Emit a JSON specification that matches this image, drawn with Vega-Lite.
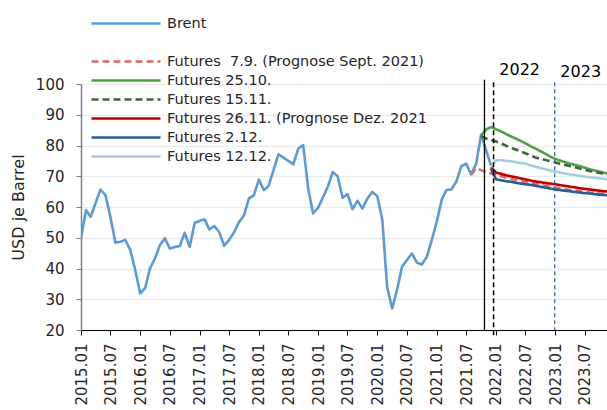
{
  "$schema": "https://vega.github.io/schema/vega-lite/v6.json",
  "width": 526,
  "height": 246,
  "autosize": {"type": "none"},
  "padding": {"left": 81, "top": 84, "right": 0, "bottom": 80},
  "background": "white",
  "config": {
    "font": "DejaVu Sans",
    "view": {"stroke": null},
    "axis": {"labelColor": "#262626", "titleColor": "#262626", "labelFont": "DejaVu Sans", "titleFont": "DejaVu Sans"}
  },
  "datasets": {
    "series": [
      {"s": "Brent", "d": "2015-01-01", "v": 49.8}, {"s": "Brent", "d": "2015-02-01", "v": 59.0}, {"s": "Brent", "d": "2015-03-01", "v": 56.8}, {"s": "Brent", "d": "2015-04-01", "v": 61.3}, {"s": "Brent", "d": "2015-05-01", "v": 65.7}, {"s": "Brent", "d": "2015-06-01", "v": 63.8}, {"s": "Brent", "d": "2015-07-01", "v": 56.8}, {"s": "Brent", "d": "2015-08-01", "v": 48.4}, {"s": "Brent", "d": "2015-09-01", "v": 48.7}, {"s": "Brent", "d": "2015-10-01", "v": 49.3}, {"s": "Brent", "d": "2015-11-01", "v": 46.0}, {"s": "Brent", "d": "2015-12-01", "v": 39.5},
      {"s": "Brent", "d": "2016-01-01", "v": 31.9}, {"s": "Brent", "d": "2016-02-01", "v": 33.7}, {"s": "Brent", "d": "2016-03-01", "v": 40.0}, {"s": "Brent", "d": "2016-04-01", "v": 43.3}, {"s": "Brent", "d": "2016-05-01", "v": 47.6}, {"s": "Brent", "d": "2016-06-01", "v": 49.8}, {"s": "Brent", "d": "2016-07-01", "v": 46.5}, {"s": "Brent", "d": "2016-08-01", "v": 47.0}, {"s": "Brent", "d": "2016-09-01", "v": 47.3}, {"s": "Brent", "d": "2016-10-01", "v": 51.6}, {"s": "Brent", "d": "2016-11-01", "v": 47.0}, {"s": "Brent", "d": "2016-12-01", "v": 54.8},
      {"s": "Brent", "d": "2017-01-01", "v": 55.5}, {"s": "Brent", "d": "2017-02-01", "v": 56.0}, {"s": "Brent", "d": "2017-03-01", "v": 52.7}, {"s": "Brent", "d": "2017-04-01", "v": 53.8}, {"s": "Brent", "d": "2017-05-01", "v": 51.9}, {"s": "Brent", "d": "2017-06-01", "v": 47.4}, {"s": "Brent", "d": "2017-07-01", "v": 49.2}, {"s": "Brent", "d": "2017-08-01", "v": 51.8}, {"s": "Brent", "d": "2017-09-01", "v": 55.1}, {"s": "Brent", "d": "2017-10-01", "v": 57.3}, {"s": "Brent", "d": "2017-11-01", "v": 62.8}, {"s": "Brent", "d": "2017-12-01", "v": 63.8},
      {"s": "Brent", "d": "2018-01-01", "v": 68.9}, {"s": "Brent", "d": "2018-02-01", "v": 65.5}, {"s": "Brent", "d": "2018-03-01", "v": 66.8}, {"s": "Brent", "d": "2018-04-01", "v": 71.9}, {"s": "Brent", "d": "2018-05-01", "v": 77.1}, {"s": "Brent", "d": "2018-06-01", "v": 76.1}, {"s": "Brent", "d": "2018-07-01", "v": 75.0}, {"s": "Brent", "d": "2018-08-01", "v": 73.9}, {"s": "Brent", "d": "2018-09-01", "v": 79.0}, {"s": "Brent", "d": "2018-10-01", "v": 80.1}, {"s": "Brent", "d": "2018-11-01", "v": 66.0}, {"s": "Brent", "d": "2018-12-01", "v": 57.9},
      {"s": "Brent", "d": "2019-01-01", "v": 59.8}, {"s": "Brent", "d": "2019-02-01", "v": 63.3}, {"s": "Brent", "d": "2019-03-01", "v": 66.5}, {"s": "Brent", "d": "2019-04-01", "v": 71.4}, {"s": "Brent", "d": "2019-05-01", "v": 70.0}, {"s": "Brent", "d": "2019-06-01", "v": 63.0}, {"s": "Brent", "d": "2019-07-01", "v": 64.2}, {"s": "Brent", "d": "2019-08-01", "v": 59.3}, {"s": "Brent", "d": "2019-09-01", "v": 62.0}, {"s": "Brent", "d": "2019-10-01", "v": 59.5}, {"s": "Brent", "d": "2019-11-01", "v": 62.8}, {"s": "Brent", "d": "2019-12-01", "v": 64.9},
      {"s": "Brent", "d": "2020-01-01", "v": 63.5}, {"s": "Brent", "d": "2020-02-01", "v": 55.7}, {"s": "Brent", "d": "2020-03-01", "v": 34.1}, {"s": "Brent", "d": "2020-04-01", "v": 27.0}, {"s": "Brent", "d": "2020-05-01", "v": 33.0}, {"s": "Brent", "d": "2020-06-01", "v": 40.6}, {"s": "Brent", "d": "2020-07-01", "v": 42.7}, {"s": "Brent", "d": "2020-08-01", "v": 44.9}, {"s": "Brent", "d": "2020-09-01", "v": 41.9}, {"s": "Brent", "d": "2020-10-01", "v": 41.3}, {"s": "Brent", "d": "2020-11-01", "v": 43.8}, {"s": "Brent", "d": "2020-12-01", "v": 49.2},
      {"s": "Brent", "d": "2021-01-01", "v": 55.2}, {"s": "Brent", "d": "2021-02-01", "v": 62.4}, {"s": "Brent", "d": "2021-03-01", "v": 65.5}, {"s": "Brent", "d": "2021-04-01", "v": 65.7}, {"s": "Brent", "d": "2021-05-01", "v": 68.2}, {"s": "Brent", "d": "2021-06-01", "v": 73.2}, {"s": "Brent", "d": "2021-07-01", "v": 74.1}, {"s": "Brent", "d": "2021-08-01", "v": 70.6}, {"s": "Brent", "d": "2021-09-01", "v": 74.1}, {"s": "Brent", "d": "2021-10-01", "v": 83.5}, {"s": "Brent", "d": "2021-11-01", "v": 78.5}, {"s": "Brent", "d": "2021-12-01", "v": 73.5},

      {"s": "F0709", "d": "2021-08-01", "v": 70.5}, {"s": "F0709", "d": "2021-09-01", "v": 72.6}, {"s": "F0709", "d": "2021-10-01", "v": 72.0}, {"s": "F0709", "d": "2021-11-01", "v": 71.4}, {"s": "F0709", "d": "2021-12-01", "v": 70.9}, {"s": "F0709", "d": "2022-01-01", "v": 70.4}, {"s": "F0709", "d": "2022-02-01", "v": 70.0}, {"s": "F0709", "d": "2022-03-01", "v": 69.6}, {"s": "F0709", "d": "2022-04-01", "v": 69.2}, {"s": "F0709", "d": "2022-05-01", "v": 68.8}, {"s": "F0709", "d": "2022-06-01", "v": 68.4}, {"s": "F0709", "d": "2022-07-01", "v": 68.1}, {"s": "F0709", "d": "2022-08-01", "v": 67.8}, {"s": "F0709", "d": "2022-09-01", "v": 67.5}, {"s": "F0709", "d": "2022-10-01", "v": 67.2}, {"s": "F0709", "d": "2022-11-01", "v": 66.9}, {"s": "F0709", "d": "2022-12-01", "v": 66.6}, {"s": "F0709", "d": "2023-01-01", "v": 66.3}, {"s": "F0709", "d": "2023-02-01", "v": 66.0}, {"s": "F0709", "d": "2023-03-01", "v": 65.8}, {"s": "F0709", "d": "2023-04-01", "v": 65.5}, {"s": "F0709", "d": "2023-05-01", "v": 65.3}, {"s": "F0709", "d": "2023-06-01", "v": 65.1}, {"s": "F0709", "d": "2023-07-01", "v": 64.9}, {"s": "F0709", "d": "2023-08-01", "v": 64.7}, {"s": "F0709", "d": "2023-09-01", "v": 64.6}, {"s": "F0709", "d": "2023-10-01", "v": 64.4}, {"s": "F0709", "d": "2023-11-01", "v": 64.3}, {"s": "F0709", "d": "2023-12-01", "v": 64.2},

      {"s": "F2510", "d": "2021-10-01", "v": 83.3}, {"s": "F2510", "d": "2021-11-01", "v": 85.2}, {"s": "F2510", "d": "2021-12-01", "v": 86.0}, {"s": "F2510", "d": "2022-01-01", "v": 85.3}, {"s": "F2510", "d": "2022-02-01", "v": 84.6}, {"s": "F2510", "d": "2022-03-01", "v": 83.8}, {"s": "F2510", "d": "2022-04-01", "v": 83.0}, {"s": "F2510", "d": "2022-05-01", "v": 82.3}, {"s": "F2510", "d": "2022-06-01", "v": 81.5}, {"s": "F2510", "d": "2022-07-01", "v": 80.7}, {"s": "F2510", "d": "2022-08-01", "v": 79.8}, {"s": "F2510", "d": "2022-09-01", "v": 79.0}, {"s": "F2510", "d": "2022-10-01", "v": 78.2}, {"s": "F2510", "d": "2022-11-01", "v": 77.3}, {"s": "F2510", "d": "2022-12-01", "v": 76.4}, {"s": "F2510", "d": "2023-01-01", "v": 75.6}, {"s": "F2510", "d": "2023-02-01", "v": 75.1}, {"s": "F2510", "d": "2023-03-01", "v": 74.6}, {"s": "F2510", "d": "2023-04-01", "v": 74.1}, {"s": "F2510", "d": "2023-05-01", "v": 73.7}, {"s": "F2510", "d": "2023-06-01", "v": 73.3}, {"s": "F2510", "d": "2023-07-01", "v": 72.8}, {"s": "F2510", "d": "2023-08-01", "v": 72.3}, {"s": "F2510", "d": "2023-09-01", "v": 71.9}, {"s": "F2510", "d": "2023-10-01", "v": 71.5}, {"s": "F2510", "d": "2023-11-01", "v": 71.1}, {"s": "F2510", "d": "2023-12-01", "v": 70.7},

      {"s": "F1511", "d": "2021-10-01", "v": 83.0}, {"s": "F1511", "d": "2021-11-01", "v": 82.3}, {"s": "F1511", "d": "2021-12-01", "v": 81.8}, {"s": "F1511", "d": "2022-01-01", "v": 81.3}, {"s": "F1511", "d": "2022-02-01", "v": 80.7}, {"s": "F1511", "d": "2022-03-01", "v": 80.0}, {"s": "F1511", "d": "2022-04-01", "v": 79.3}, {"s": "F1511", "d": "2022-05-01", "v": 78.7}, {"s": "F1511", "d": "2022-06-01", "v": 78.1}, {"s": "F1511", "d": "2022-07-01", "v": 77.5}, {"s": "F1511", "d": "2022-08-01", "v": 76.8}, {"s": "F1511", "d": "2022-09-01", "v": 76.1}, {"s": "F1511", "d": "2022-10-01", "v": 75.7}, {"s": "F1511", "d": "2022-11-01", "v": 75.3}, {"s": "F1511", "d": "2022-12-01", "v": 74.9}, {"s": "F1511", "d": "2023-01-01", "v": 74.5}, {"s": "F1511", "d": "2023-02-01", "v": 74.1}, {"s": "F1511", "d": "2023-03-01", "v": 73.7}, {"s": "F1511", "d": "2023-04-01", "v": 73.3}, {"s": "F1511", "d": "2023-05-01", "v": 72.9}, {"s": "F1511", "d": "2023-06-01", "v": 72.5}, {"s": "F1511", "d": "2023-07-01", "v": 72.1}, {"s": "F1511", "d": "2023-08-01", "v": 71.7}, {"s": "F1511", "d": "2023-09-01", "v": 71.4}, {"s": "F1511", "d": "2023-10-01", "v": 71.1}, {"s": "F1511", "d": "2023-11-01", "v": 70.8}, {"s": "F1511", "d": "2023-12-01", "v": 70.5},

      {"s": "F2611", "d": "2021-12-01", "v": 73.0}, {"s": "F2611", "d": "2022-01-01", "v": 71.2}, {"s": "F2611", "d": "2022-02-01", "v": 70.8}, {"s": "F2611", "d": "2022-03-01", "v": 70.4}, {"s": "F2611", "d": "2022-04-01", "v": 70.0}, {"s": "F2611", "d": "2022-05-01", "v": 69.7}, {"s": "F2611", "d": "2022-06-01", "v": 69.3}, {"s": "F2611", "d": "2022-07-01", "v": 69.0}, {"s": "F2611", "d": "2022-08-01", "v": 68.6}, {"s": "F2611", "d": "2022-09-01", "v": 68.3}, {"s": "F2611", "d": "2022-10-01", "v": 68.1}, {"s": "F2611", "d": "2022-11-01", "v": 67.8}, {"s": "F2611", "d": "2022-12-01", "v": 67.6}, {"s": "F2611", "d": "2023-01-01", "v": 67.4}, {"s": "F2611", "d": "2023-02-01", "v": 67.1}, {"s": "F2611", "d": "2023-03-01", "v": 66.9}, {"s": "F2611", "d": "2023-04-01", "v": 66.6}, {"s": "F2611", "d": "2023-05-01", "v": 66.4}, {"s": "F2611", "d": "2023-06-01", "v": 66.1}, {"s": "F2611", "d": "2023-07-01", "v": 65.9}, {"s": "F2611", "d": "2023-08-01", "v": 65.7}, {"s": "F2611", "d": "2023-09-01", "v": 65.5}, {"s": "F2611", "d": "2023-10-01", "v": 65.3}, {"s": "F2611", "d": "2023-11-01", "v": 65.1}, {"s": "F2611", "d": "2023-12-01", "v": 65.0},

      {"s": "F0212", "d": "2021-12-01", "v": 72.5}, {"s": "F0212", "d": "2022-01-01", "v": 69.0}, {"s": "F0212", "d": "2022-02-01", "v": 68.7}, {"s": "F0212", "d": "2022-03-01", "v": 68.4}, {"s": "F0212", "d": "2022-04-01", "v": 68.2}, {"s": "F0212", "d": "2022-05-01", "v": 67.9}, {"s": "F0212", "d": "2022-06-01", "v": 67.6}, {"s": "F0212", "d": "2022-07-01", "v": 67.4}, {"s": "F0212", "d": "2022-08-01", "v": 67.2}, {"s": "F0212", "d": "2022-09-01", "v": 66.9}, {"s": "F0212", "d": "2022-10-01", "v": 66.6}, {"s": "F0212", "d": "2022-11-01", "v": 66.3}, {"s": "F0212", "d": "2022-12-01", "v": 66.0}, {"s": "F0212", "d": "2023-01-01", "v": 65.7}, {"s": "F0212", "d": "2023-02-01", "v": 65.5}, {"s": "F0212", "d": "2023-03-01", "v": 65.3}, {"s": "F0212", "d": "2023-04-01", "v": 65.1}, {"s": "F0212", "d": "2023-05-01", "v": 64.9}, {"s": "F0212", "d": "2023-06-01", "v": 64.7}, {"s": "F0212", "d": "2023-07-01", "v": 64.5}, {"s": "F0212", "d": "2023-08-01", "v": 64.4}, {"s": "F0212", "d": "2023-09-01", "v": 64.2}, {"s": "F0212", "d": "2023-10-01", "v": 64.0}, {"s": "F0212", "d": "2023-11-01", "v": 63.9}, {"s": "F0212", "d": "2023-12-01", "v": 63.7},

      {"s": "F1212", "d": "2021-12-01", "v": 73.0}, {"s": "F1212", "d": "2022-01-01", "v": 75.2}, {"s": "F1212", "d": "2022-02-01", "v": 75.2}, {"s": "F1212", "d": "2022-03-01", "v": 75.0}, {"s": "F1212", "d": "2022-04-01", "v": 74.9}, {"s": "F1212", "d": "2022-05-01", "v": 74.6}, {"s": "F1212", "d": "2022-06-01", "v": 74.3}, {"s": "F1212", "d": "2022-07-01", "v": 74.1}, {"s": "F1212", "d": "2022-08-01", "v": 73.5}, {"s": "F1212", "d": "2022-09-01", "v": 73.1}, {"s": "F1212", "d": "2022-10-01", "v": 72.7}, {"s": "F1212", "d": "2022-11-01", "v": 72.3}, {"s": "F1212", "d": "2022-12-01", "v": 71.9}, {"s": "F1212", "d": "2023-01-01", "v": 71.5}, {"s": "F1212", "d": "2023-02-01", "v": 71.2}, {"s": "F1212", "d": "2023-03-01", "v": 70.9}, {"s": "F1212", "d": "2023-04-01", "v": 70.6}, {"s": "F1212", "d": "2023-05-01", "v": 70.4}, {"s": "F1212", "d": "2023-06-01", "v": 70.1}, {"s": "F1212", "d": "2023-07-01", "v": 69.9}, {"s": "F1212", "d": "2023-08-01", "v": 69.7}, {"s": "F1212", "d": "2023-09-01", "v": 69.5}, {"s": "F1212", "d": "2023-10-01", "v": 69.3}, {"s": "F1212", "d": "2023-11-01", "v": 69.1}, {"s": "F1212", "d": "2023-12-01", "v": 68.9}
    ],
    "markers": [
      {"k": "today", "d": "2021-10-22", "v": 101.4, "v2": 20},
      {"k": "y2022", "d": "2021-12-17", "v": 100.6, "v2": 18},
      {"k": "y2023", "d": "2022-12-29", "v": 100.6, "v2": 20}
    ],
    "labels": [
      {"t": "2022", "d": "2022-05-27", "v": 102.8},
      {"t": "2023", "d": "2023-06-07", "v": 102.2}
    ]
  },
  "encoding": {
    "x": {
      "field": "d", "type": "temporal",
      "scale": {"type": "utc", "domain": [{"year": 2015, "month": 1, "date": 1, "utc": true}, {"year": 2023, "month": 11, "date": 16, "utc": true}]},
      "axis": {
        "title": null,
        "values": [
          {"year": 2015, "month": 1, "date": 1, "utc": true}, {"year": 2015, "month": 7, "date": 1, "utc": true},
          {"year": 2016, "month": 1, "date": 1, "utc": true}, {"year": 2016, "month": 7, "date": 1, "utc": true},
          {"year": 2017, "month": 1, "date": 1, "utc": true}, {"year": 2017, "month": 7, "date": 1, "utc": true},
          {"year": 2018, "month": 1, "date": 1, "utc": true}, {"year": 2018, "month": 7, "date": 1, "utc": true},
          {"year": 2019, "month": 1, "date": 1, "utc": true}, {"year": 2019, "month": 7, "date": 1, "utc": true},
          {"year": 2020, "month": 1, "date": 1, "utc": true}, {"year": 2020, "month": 7, "date": 1, "utc": true},
          {"year": 2021, "month": 1, "date": 1, "utc": true}, {"year": 2021, "month": 7, "date": 1, "utc": true},
          {"year": 2022, "month": 1, "date": 1, "utc": true}, {"year": 2022, "month": 7, "date": 1, "utc": true},
          {"year": 2023, "month": 1, "date": 1, "utc": true}, {"year": 2023, "month": 7, "date": 1, "utc": true}
        ],
        "format": "%Y.%m",
        "labelAngle": -90,
        "labelFontSize": 15,
        "labelPadding": 8,
        "labelFlush": false,
        "labelOverlap": false,
        "tickSize": 5,
        "tickColor": "#000000",
        "domainColor": "#000000",
        "domainWidth": 1.2,
        "grid": false
      }
    },
    "y": {
      "field": "v", "type": "quantitative",
      "scale": {"domain": [20, 100], "nice": false, "zero": false},
      "axis": {
        "title": "USD je Barrel",
        "titleFontSize": 16,
        "titleFontWeight": "normal",
        "titlePadding": 9,
        "values": [20, 30, 40, 50, 60, 70, 80, 90, 100],
        "labelOverlap": false,
        "labelFontSize": 15,
        "labelPadding": 12,
        "tickSize": 5,
        "tickColor": "#808080",
        "domainColor": "#808080",
        "domainWidth": 1.5,
        "gridColor": "#EBEBEB",
        "gridWidth": 1.5
      }
    }
  },
  "layer": [
    {
      "data": {"name": "series"},
      "mark": {"type": "line", "strokeWidth": 2.6, "clip": true, "strokeJoin": "round"},
      "encoding": {
        "color": {
          "field": "s", "type": "nominal",
          "scale": {
            "domain": ["Brent", "gap", "F0709", "F2510", "F1511", "F2611", "F0212", "F1212"],
            "range": ["#5B9BD5", "rgba(0,0,0,0)", "#DB6B6B", "#52A047", "#386B30", "#C00000", "#2B5C92", "#A6CEE3"]
          },
          "legend": {
            "title": null,
            "orient": "none",
            "legendX": 9,
            "legendY": -70,
            "padding": 0,
            "symbolType": "stroke",
            "symbolSize": 4761,
            "symbolStrokeWidth": 2.6,
            "labelFontSize": 14.5,
            "labelColor": "#262626",
            "labelOffset": 5,
            "labelLimit": 400,
            "clipHeight": 19,
            "rowPadding": 0,
            "labelExpr": "{'Brent':'Brent','gap':'','F0709':'Futures \u00a07.9. (Prognose Sept. 2021)','F2510':'Futures 25.10.','F1511':'Futures 15.11.','F2611':'Futures 26.11. (Prognose Dez. 2021','F0212':'Futures 2.12.','F1212':'Futures 12.12.'}[datum.label]"
          }
        },
        "strokeDash": {
          "field": "s", "type": "nominal",
          "scale": {
            "domain": ["Brent", "gap", "F0709", "F2510", "F1511", "F2611", "F0212", "F1212"],
            "range": [[1, 0], [1, 0], [7, 4], [1, 0], [7, 4], [1, 0], [1, 0], [1, 0]]
          },
          "legend": null
        }
      }
    },
    {
      "data": {"name": "markers"},
      "transform": [{"filter": "datum.k === 'y2023'"}],
      "mark": {"type": "rule", "color": "#2F5F8F", "strokeWidth": 1.2, "strokeDash": [4, 3]},
      "encoding": {"y2": {"field": "v2"}}
    },
    {
      "data": {"name": "markers"},
      "transform": [{"filter": "datum.k === 'today'"}],
      "mark": {"type": "rule", "color": "#000000", "strokeWidth": 1.3},
      "encoding": {"y2": {"field": "v2"}}
    },
    {
      "data": {"name": "markers"},
      "transform": [{"filter": "datum.k === 'y2022'"}],
      "mark": {"type": "rule", "color": "#000000", "strokeWidth": 1.5, "strokeDash": [5, 3]},
      "encoding": {"y2": {"field": "v2"}}
    },
    {
      "data": {"name": "labels"},
      "mark": {"type": "text", "fontSize": 16, "color": "#000000", "align": "center", "baseline": "alphabetic"},
      "encoding": {"text": {"field": "t"}}
    }
  ]
}
